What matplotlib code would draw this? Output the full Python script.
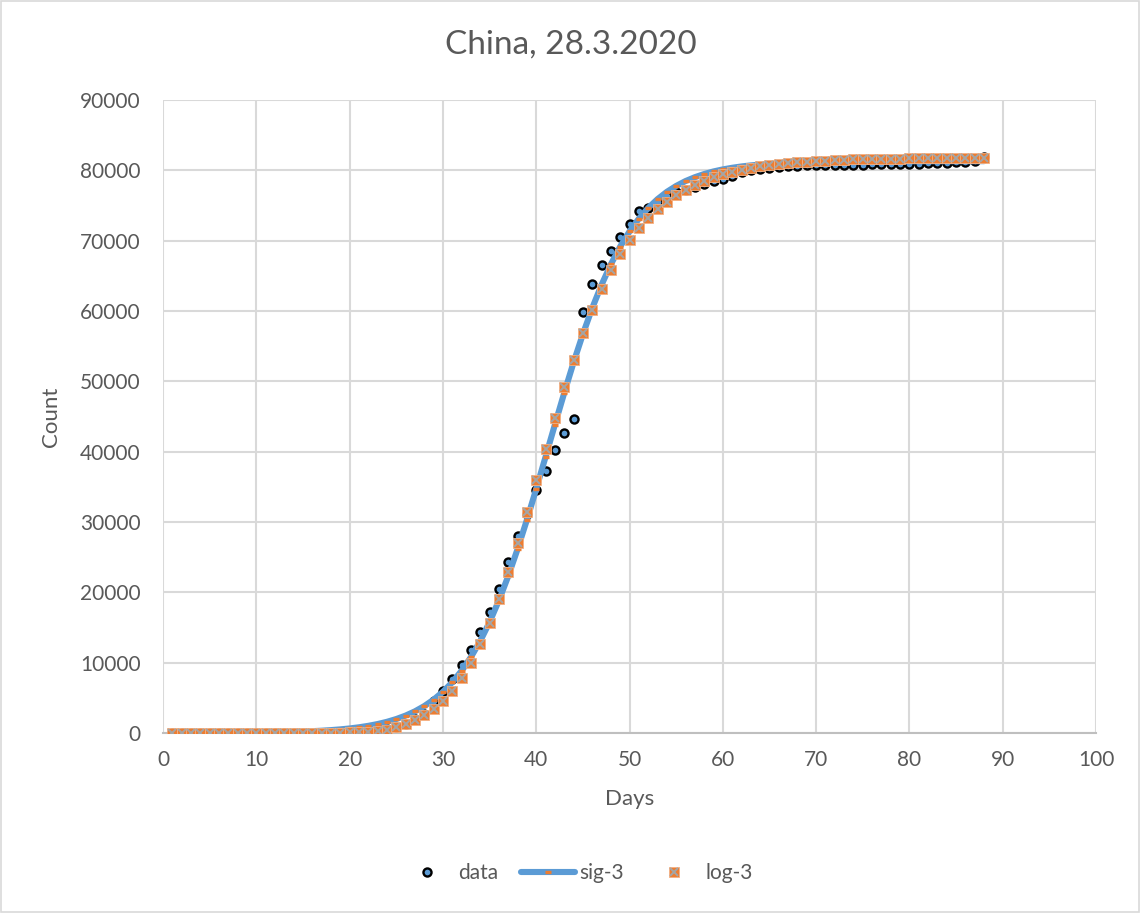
import numpy as np
import matplotlib
matplotlib.use("Agg")
import matplotlib.pyplot as plt
from matplotlib.patches import Rectangle
from matplotlib.legend_handler import HandlerTuple

plt.rcParams['font.family'] = ['Lato', 'DejaVu Sans']

# day index (1 = 30.12.2019) and cumulative counts
days = np.arange(1, 89)

data = [0, 0, 0, 0, 0, 0, 0, 0, 0, 0,
        0, 0, 0, 0, 0, 0, 0, 0, 0, 121,
        198, 291, 440, 571, 830, 1287, 1975, 2744, 4515, 5974,
        7711, 9692, 11791, 14380, 17205, 20438, 24324, 28018, 31161, 34546,
        37198, 40171, 42638, 44653, 59804, 63851, 66492, 68500, 70548, 72436,
        74185, 74576, 75465, 76288, 76936, 77150, 77658, 78064, 78497, 78824,
        79251, 79824, 80026, 80151, 80270, 80409, 80552, 80651, 80695, 80735,
        80754, 80778, 80793, 80813, 80824, 80844, 80860, 80881, 80894, 80928,
        80967, 81008, 81054, 81093, 81171, 81218, 81285, 81900]

sig3 = [9, 11, 14, 18, 22, 27, 34, 42, 55, 69,
        86, 108, 136, 170, 213, 266, 334, 418, 523, 654,
        819, 1024, 1280, 1597, 1993, 2482, 3088, 3835, 4749, 5866,
        7221, 8856, 10800, 13090, 15780, 18860, 22320, 26160, 30310, 34720,
        39270, 43850, 48360, 52690, 56720, 60410, 63720, 66640, 69160, 71320,
        73130, 74650, 75900, 76940, 77780, 78470, 79020, 79470, 79840, 80130,
        80360, 80550, 80700, 80820, 80920, 80990, 81060, 81110, 81145, 81180,
        81200, 81220, 81235, 81245, 81260, 81268, 81275, 81280, 81285, 81288,
        81290, 81292, 81294, 81296, 81297, 81298, 81299, 81300]

log3 = [0, 0, 0, 0, 0, 0, 0, 0, 0, 0,
        0, 0, 1, 2, 4, 8, 15, 28, 50, 85,
        140, 220, 340, 500, 900, 1280, 1850, 2510, 3370, 4510,
        5970, 7820, 10000, 12610, 15600, 19010, 22850, 26980, 31380, 35980,
        40430, 44840, 49160, 53040, 56830, 60100, 63090, 65800, 68080, 70100,
        71770, 73190, 74470, 75560, 76550, 77260, 77930, 78500, 79000, 79450,
        79800, 80100, 80370, 80590, 80770, 80920, 81050, 81160, 81250, 81330,
        81390, 81450, 81500, 81540, 81570, 81600, 81630, 81650, 81670, 81690,
        81700, 81710, 81720, 81730, 81740, 81745, 81750, 81755]

blue = '#5B9BD5'
orange = '#ED7D31'
grey = '#A5A5A5'
txt = '#595959'

fig = plt.figure(figsize=(11.41, 9.13), dpi=100)
ax = fig.add_axes([0.1429, 0.1971, 0.8177, 0.6934])

h_data, = ax.plot(days, data, ls='none', marker='o', ms=5.8, mfc=blue,
                  mec='black', mew=1.7, zorder=3)
h_sig, = ax.plot(days, sig3, color=blue, lw=4.4, marker='_', ms=4,
                 mec=orange, mew=2.4, solid_capstyle='round', zorder=4)
h_sq, = ax.plot(days, log3, ls='none', marker='s', ms=7.4, mfc=orange,
                mec='#F4B183', mew=0.6, zorder=5)
h_x, = ax.plot(days, log3, ls='none', marker='x', ms=6.4, mec=grey,
               mew=1.4, zorder=6)

ax.set_xlim(0, 100)
ax.set_ylim(0, 90000)
ax.set_xticks(np.arange(0, 101, 10))
ax.set_yticks(np.arange(0, 90001, 10000))
ax.grid(True, color='#D9D9D9', lw=1.5)
ax.set_axisbelow(True)
for s in ['top', 'right', 'left']:
    ax.spines[s].set_visible(False)
ax.spines['bottom'].set_color('#BFBFBF')
ax.spines['bottom'].set_linewidth(1.5)
ax.tick_params(length=0, labelsize=15, labelcolor=txt)
ax.tick_params(axis='y', pad=16)
ax.tick_params(axis='x', pad=12)

ax.set_xlabel('Days', fontsize=16, color=txt, labelpad=14)
ax.set_ylabel('Count', fontsize=16, color=txt, labelpad=14)
fig.text(0.5, 0.951, 'China, 28.3.2020', ha='center', va='center',
         fontsize=24, color=txt)

fig.legend([h_data, h_sig, (h_sq, h_x)], ['data', 'sig-3', 'log-3'],
           handler_map={tuple: HandlerTuple(ndivide=1)},
           loc='center', bbox_to_anchor=(0.505, 0.044), ncol=3,
           frameon=False, fontsize=15, labelcolor=txt,
           handlelength=2.6, handletextpad=0.2, columnspacing=1.1)

fig.add_artist(Rectangle((0.0005, 0.0006), 0.998, 0.998,
                         transform=fig.transFigure, fill=False,
                         edgecolor='#D9D9D9', lw=1.2))

fig.savefig('out.png', dpi=100)
